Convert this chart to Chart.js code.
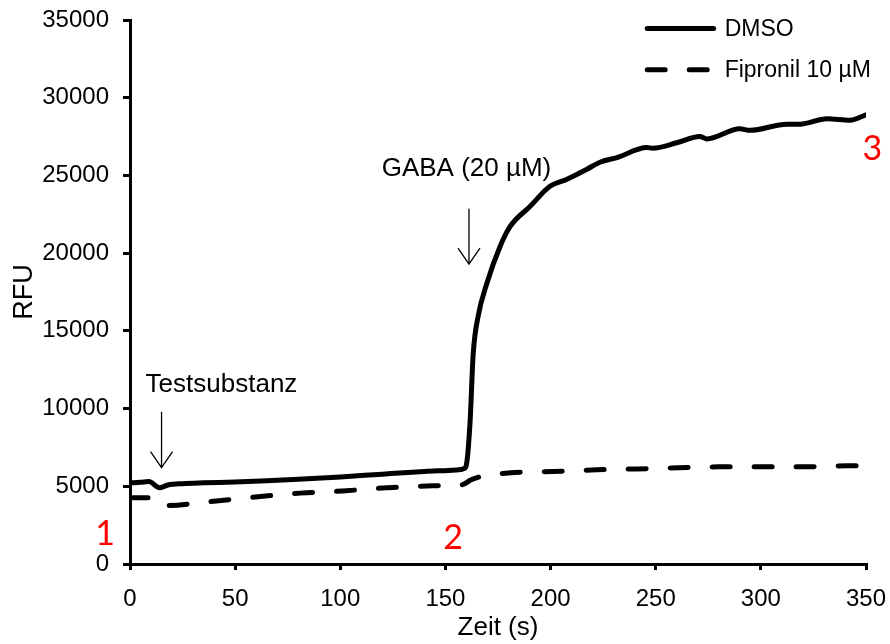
<!DOCTYPE html>
<html>
<head>
<meta charset="utf-8">
<script src="https://cdn.jsdelivr.net/npm/chart.js@4/dist/chart.umd.min.js"></script>
<style>
    html, body { margin: 0; padding: 0; background: #fff; }
    #wrap { width: 890px; height: 644px; }
</style>
</head>
<body>
<div id="wrap"><canvas id="fluoChart"></canvas></div>
<script>
// values
const dmsoTime = [0, 5, 9, 14, 18, 25, 35, 50, 65, 80, 100, 120, 140, 155, 159, 160, 161.7, 163.2, 165.5, 169.8, 175.9, 180.7, 190.2, 199.7, 207.8, 217.3, 223.5, 231.6, 245.8, 248.7, 260, 271, 274.4, 290, 294.8, 312.4, 318.6, 331.4, 342.4, 350];
const dmsoRfu = [5220, 5260, 5300, 4900, 5080, 5170, 5220, 5270, 5350, 5450, 5600, 5780, 5950, 6050, 6150, 6400, 9100, 13500, 15900, 18100, 20400, 21700, 23000, 24300, 24750, 25400, 25850, 26150, 26800, 26750, 27100, 27500, 27350, 28000, 27900, 28300, 28300, 28650, 28550, 28900];

const fipTime = [0, 12, 17, 38, 62, 81, 101, 122, 144, 158, 162, 166, 181, 201, 222, 241, 261, 280, 301, 320, 341, 350];
const fipRfu = [4270, 4270, 3760, 4020, 4340, 4560, 4700, 4900, 5030, 5100, 5400, 5600, 5870, 5950, 6060, 6120, 6190, 6250, 6250, 6250, 6320, 6320];

const xTicks = [0, 50, 100, 150, 200, 250, 300, 350];
const yTicks = [0, 5000, 10000, 15000, 20000, 25000, 30000, 35000];

const seriesNames = ['DMSO', 'Fipronil 10 µM'];

// annotation texts with their place in data units
const arrowNotes = [
    { text: 'Testsubstanz', tx: 43.5, ty: 11550, x: 15, yFrom: 9800, yTo: 6200 },
    { text: 'GABA (20 µM)', tx: 160, ty: 25400, x: 161.2, yFrom: 22850, yTo: 19300 }
];
const stepLabels = [
    { text: '1', x: -11.8, y: 1950 },
    { text: '2', x: 153.6, y: 1650 },
    { text: '3', x: 353, y: 26700 }
];

const textFont = '"Liberation Sans", Arial, sans-serif';

const notesPlugin = {
    id: 'notes',
    afterDraw(chart) {
        const ctx = chart.ctx;
        const xs = chart.scales.x;
        const ys = chart.scales.y;
        ctx.save();

        // arrows + captions
        ctx.fillStyle = '#000';
        ctx.strokeStyle = '#000';
        ctx.font = '26px ' + textFont;
        ctx.textAlign = 'center';
        ctx.textBaseline = 'middle';
        arrowNotes.forEach(n => {
            ctx.fillText(n.text, xs.getPixelForValue(n.tx), ys.getPixelForValue(n.ty));
            const px = xs.getPixelForValue(n.x);
            const y1 = ys.getPixelForValue(n.yFrom);
            const y2 = ys.getPixelForValue(n.yTo);
            ctx.lineWidth = 1.3;
            ctx.beginPath();
            ctx.moveTo(px, y1);
            ctx.lineTo(px, y2);
            ctx.moveTo(px - 11, y2 - 16);
            ctx.lineTo(px, y2);
            ctx.lineTo(px + 11, y2 - 16);
            ctx.stroke();
        });

        // red step numbers
        ctx.fillStyle = '#ff0000';
        ctx.font = '34px Lato, "Open Sans", sans-serif';
        stepLabels.forEach(s => {
            ctx.fillText(s.text, xs.getPixelForValue(s.x), ys.getPixelForValue(s.y));
        });

        // legend, top right
        const lx1 = xs.getPixelForValue(245);
        const lx2 = xs.getPixelForValue(278.5);
        const rowY = [ys.getPixelForValue(34450), ys.getPixelForValue(31800)];
        ctx.strokeStyle = '#000';
        ctx.lineWidth = 5;
        ctx.lineCap = 'round';
        chart.data.datasets.forEach((ds, i) => {
            ctx.setLineDash(ds.borderDash || []);
            ctx.beginPath();
            ctx.moveTo(lx1 + 2, rowY[i]);
            ctx.lineTo(lx2 - 2, rowY[i]);
            ctx.stroke();
        });
        ctx.setLineDash([]);
        ctx.fillStyle = '#000';
        ctx.font = '23px ' + textFont;
        ctx.textAlign = 'left';
        seriesNames.forEach((name, i) => {
            ctx.fillText(name, lx2 + 9, rowY[i] + 1);
        });
        ctx.restore();
    }
};

const ctx = document.getElementById('fluoChart').getContext('2d');
const fluoChart = new Chart(ctx, {
    type: 'line',
    data: {
        datasets: [{
            label: seriesNames[0],
            data: dmsoTime.map((t, i) => ({ x: t, y: dmsoRfu[i] })),
            borderColor: '#000',
            borderWidth: 5,
            borderCapStyle: 'round',
            borderJoinStyle: 'round',
            pointRadius: 0,
            fill: false,
            cubicInterpolationMode: 'monotone'
        }, {
            label: seriesNames[1],
            data: fipTime.map((t, i) => ({ x: t, y: fipRfu[i] })),
            borderColor: '#000',
            borderWidth: 5,
            borderDash: [18, 24],
            borderCapStyle: 'round',
            borderJoinStyle: 'round',
            pointRadius: 0,
            fill: false,
            cubicInterpolationMode: 'monotone'
        }]
    },
    options: {
        responsive: true,
        maintainAspectRatio: false,
        animation: false,
        layout: {
            padding: { top: 20, right: 24, left: 0, bottom: 0 }
        },
        plugins: {
            legend: { display: false },
            tooltip: { enabled: false }
        },
        scales: {
            x: {
                type: 'linear',
                min: 0,
                max: 350,
                afterFit: scale => {
                    scale.height = 80;
                    scale.paddingLeft = 0;
                    scale.paddingRight = 0;
                },
                afterBuildTicks: scale => { scale.ticks = xTicks.map(v => ({ value: v })); },
                border: { color: '#000', width: 3 },
                grid: {
                    drawOnChartArea: false,
                    tickLength: 6,
                    tickColor: '#000',
                    lineWidth: 3
                },
                ticks: {
                    color: '#000',
                    padding: 15,
                    maxRotation: 0,
                    font: { family: textFont, size: 24 }
                },
                title: {
                    display: true,
                    text: 'Zeit (s)',
                    color: '#000',
                    padding: { top: 0, bottom: 1 },
                    font: { family: textFont, size: 26 }
                }
            },
            y: {
                min: 0,
                max: 35000,
                afterFit: scale => {
                    scale.width = 130;
                    scale.paddingTop = 0;
                    scale.paddingBottom = 0;
                },
                afterBuildTicks: scale => { scale.ticks = yTicks.map(v => ({ value: v })); },
                border: { color: '#000', width: 3 },
                grid: {
                    drawOnChartArea: false,
                    tickLength: 7,
                    tickColor: '#000',
                    lineWidth: 3
                },
                ticks: {
                    color: '#000',
                    padding: 14,
                    callback: v => String(v),
                    font: { family: textFont, size: 24 }
                },
                title: {
                    display: true,
                    text: 'RFU',
                    color: '#000',
                    padding: { top: 8, bottom: 0 },
                    font: { family: textFont, size: 27 }
                }
            }
        }
    },
    plugins: [notesPlugin]
});
</script>
</body>
</html>
